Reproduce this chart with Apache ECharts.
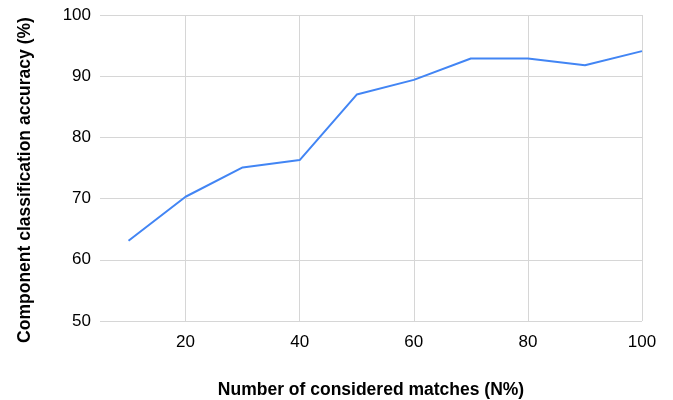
<!DOCTYPE html>
<html>
<head>
<meta charset="utf-8">
<script src="https://cdn.jsdelivr.net/npm/echarts@6/dist/echarts.min.js"></script>
<style>
html,body{margin:0;padding:0;background:#fff;}
#chart{width:673px;height:400px;}
</style>
</head>
<body>
<div id="chart"></div>
<script>
const xValues = [10, 20, 30, 40, 50, 60, 70, 80, 90, 100];
const accuracy = [63.1, 70.3, 75.1, 76.3, 87.0, 89.4, 92.9, 92.9, 91.8, 94.1];
const xTicks = [20, 40, 60, 80, 100];
const xTitle = 'Number of considered matches (N%)';
const yTitle = 'Component classification accuracy (%)';

const chart = echarts.init(document.getElementById('chart'), null, {renderer: 'canvas'});
const font = 'Liberation Sans, Arial, sans-serif';
chart.setOption({
  animation: false,
  grid: {left: 100, right: 31, top: 15, bottom: 79, containLabel: false, outerBoundsMode: 'none'},
  xAxis: {
    type: 'value', min: 5, max: 100,
    name: xTitle, nameLocation: 'middle', nameGap: 60,
    nameTextStyle: {fontFamily: font, fontSize: 17.5, fontWeight: 'bold', color: '#000'},
    axisLine: {show: false},
    axisTick: {show: false, customValues: xTicks},
    axisLabel: {customValues: xTicks, fontFamily: font, fontSize: 17, color: '#000', margin: 13},
    splitLine: {show: true, lineStyle: {color: '#d6d6d6', width: 1}}
  },
  yAxis: {
    type: 'value', min: 50, max: 100, interval: 10,
    name: yTitle, nameLocation: 'middle', nameGap: 66,
    nameTextStyle: {fontFamily: font, fontSize: 17.5, fontWeight: 'bold', color: '#000', padding: [0, 24, 0, 0]},
    axisLine: {show: false},
    axisTick: {show: false},
    axisLabel: {fontFamily: font, fontSize: 17, color: '#000', margin: 9},
    splitLine: {show: true, lineStyle: {color: '#d6d6d6', width: 1}}
  },
  series: [{
    type: 'line',
    data: xValues.map((x, i) => [x, accuracy[i]]),
    showSymbol: false,
    lineStyle: {color: '#4285F4', width: 2},
    itemStyle: {color: '#4285F4'}
  }]
});
</script>
</body>
</html>
